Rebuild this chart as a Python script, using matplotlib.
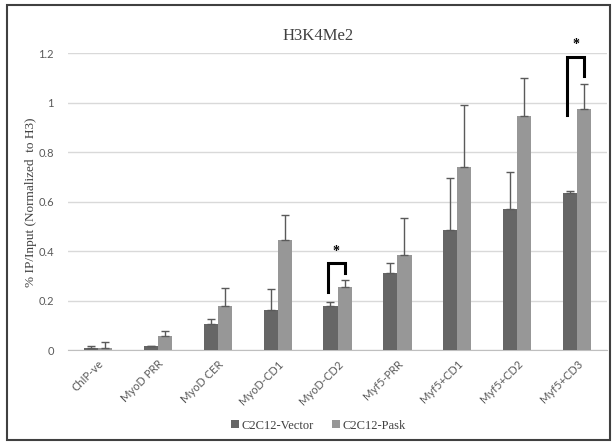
import numpy as np
import matplotlib
matplotlib.use("Agg")
import matplotlib.pyplot as plt
from matplotlib.patches import Rectangle

# data
categories = ["ChIP-ve", "MyoD PRR", "MyoD CER", "MyoD-CD1", "MyoD-CD2",
              "Myf5-PRR", "Myf5+CD1", "Myf5+CD2", "Myf5+CD3"]
vector_vals = [0.008, 0.015, 0.104, 0.163, 0.180, 0.312, 0.487, 0.572, 0.637]
vector_err = [0.010, 0.003, 0.020, 0.085, 0.015, 0.041, 0.211, 0.150, 0.008]
pask_vals = [0.010, 0.055, 0.180, 0.447, 0.256, 0.385, 0.742, 0.948, 0.977]
pask_err = [0.021, 0.023, 0.072, 0.100, 0.028, 0.150, 0.251, 0.154, 0.101]
series_names = ["C2C12-Vector", "C2C12-Pask"]

# significance brackets: (category index, left leg bottom, top, right leg bottom, star y)
brackets = [(4, 0.236, 0.353, 0.310, 0.398),
            (8, 0.952, 1.185, 1.108, 1.238)]

col_vec = "#666666"
col_pask = "#979797"
col_err = "#5a5a5a"
serif = "Liberation Serif"
sans = "Lato"

fig = plt.figure(figsize=(6.12, 4.42), dpi=100)
ax = fig.add_axes([0.111, 0.208, 0.881, 0.671])

x = np.arange(len(categories))
w = 0.235
ax.bar(x - w / 2, vector_vals, w, color=col_vec, label=series_names[0], zorder=3)
ax.bar(x + w / 2, pask_vals, w, color=col_pask, label=series_names[1], zorder=3)
ax.errorbar(x - w / 2, vector_vals, yerr=[np.zeros(len(x)), vector_err], fmt="none",
            ecolor=col_err, elinewidth=1.0, capsize=3, capthick=1.0, zorder=4)
ax.errorbar(x + w / 2, pask_vals, yerr=[np.zeros(len(x)), pask_err], fmt="none",
            ecolor=col_err, elinewidth=1.0, capsize=3, capthick=1.0, zorder=4)

for i, lo_l, top, lo_r, star in brackets:
    xl = x[i] - w * 0.7
    xr = x[i] + w * 0.5
    ax.plot([xl, xl, xr, xr], [lo_l, top, top, lo_r], color="black", lw=2.2,
            solid_joinstyle="miter", clip_on=False, zorder=5)
    ax.text((xl + xr) / 2, star, "*", ha="center", va="center", fontsize=10,
            fontweight="bold", family=serif, clip_on=False)

ax.set_xlim(-0.5, len(categories) - 0.5)
ax.set_ylim(0, 1.2)
ax.set_yticks([0, 0.2, 0.4, 0.6, 0.8, 1.0, 1.2])
ax.set_yticklabels(["0", "0.2", "0.4", "0.6", "0.8", "1", "1.2"])
ax.yaxis.grid(True, color="#d9d9d9", lw=1.0, zorder=0)
ax.set_axisbelow(True)
for s in ["top", "right", "left"]:
    ax.spines[s].set_visible(False)
ax.spines["bottom"].set_color("#bfbfbf")
ax.tick_params(axis="both", length=0, labelsize=8, labelcolor="#595959", pad=10)
for lab in ax.get_yticklabels():
    lab.set_family(sans)
ax.set_xticks(x)
ax.set_xticklabels(categories, rotation=45, ha="right", rotation_mode="anchor",
                   family=sans, fontsize=8, color="#595959")
ax.tick_params(axis="x", pad=6)

ax.set_ylabel("% IP/Input (Normalized  to H3)", family=serif, fontsize=9.5,
              color="#404040", labelpad=1)
fig.text(0.52, 0.918, "H3K4Me2", ha="center", va="center", family=serif,
         fontsize=12, color="#404040")

leg = fig.legend(loc="center", bbox_to_anchor=(0.52, 0.037), ncol=2, frameon=False,
                 prop={"family": serif, "size": 9}, handlelength=0.6, handleheight=0.6,
                 handletextpad=0.2, columnspacing=1.5)
for t in leg.get_texts():
    t.set_color("#404040")

# outer chart border
fig.patches.append(Rectangle((0.011, 0.005), 0.985, 0.984, transform=fig.transFigure,
                             fill=False, edgecolor="#404040", lw=1.5))

fig.savefig("out.png", dpi=100)
